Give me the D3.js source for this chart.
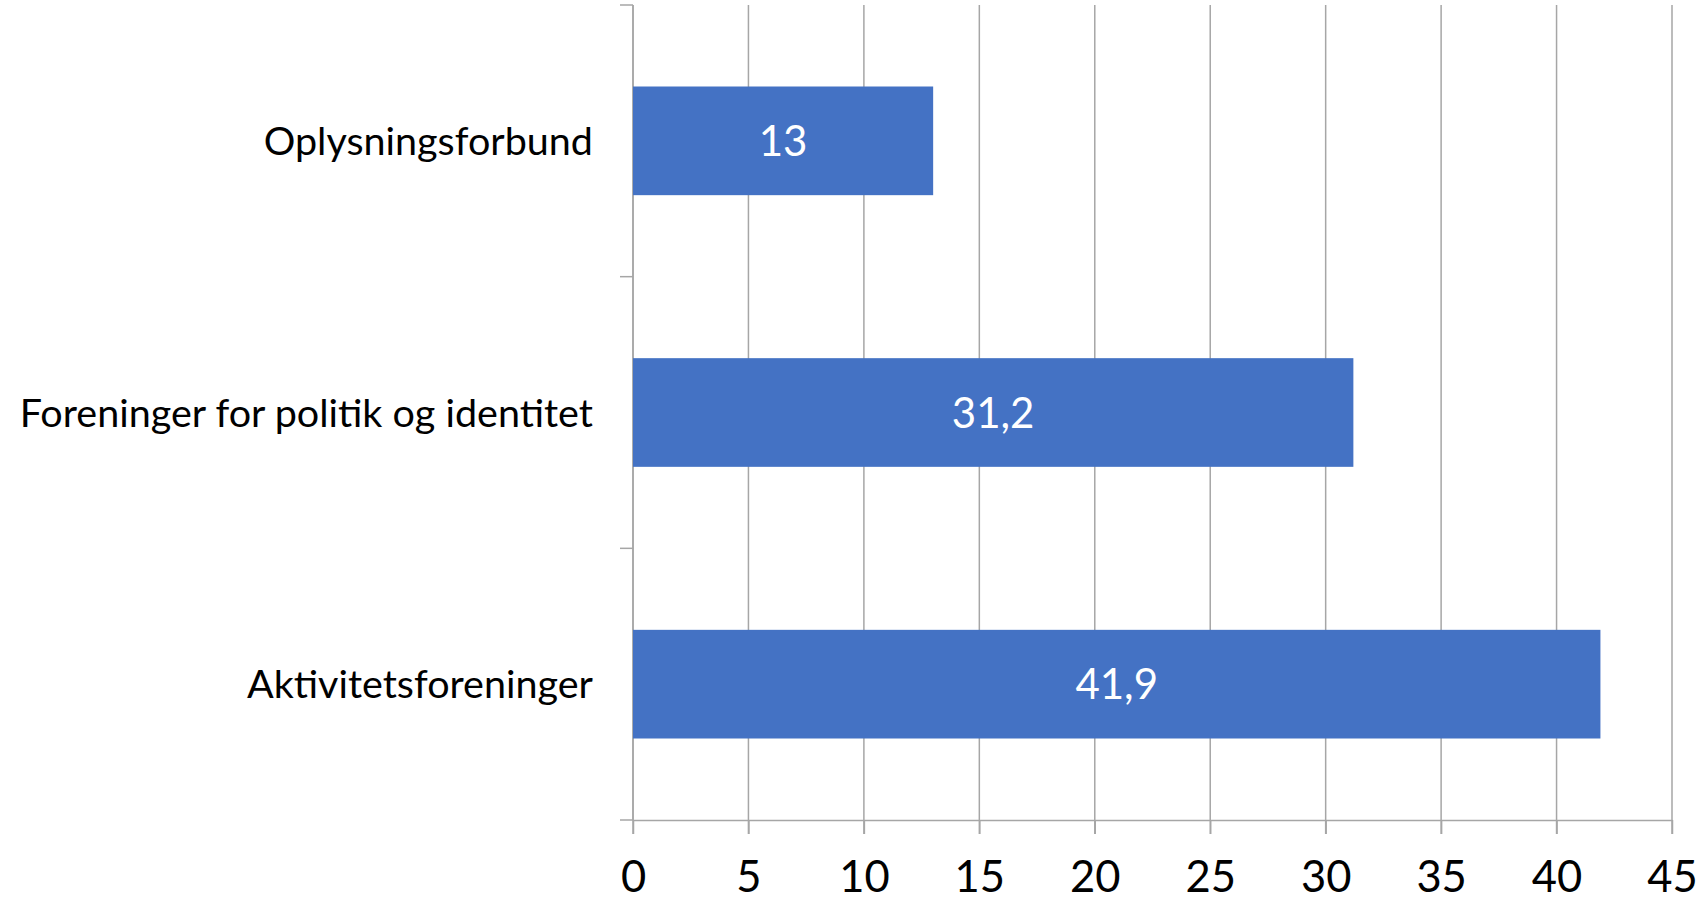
<!DOCTYPE html>
<html>
<head>
<meta charset="utf-8">
<script src="https://cdn.jsdelivr.net/npm/d3@7"></script>
<style>
  html, body { margin: 0; padding: 0; background: #fff; }
  svg { display: block; }
  text { font-family: Lato, "Open Sans", "Liberation Sans", sans-serif; }
</style>
</head>
<body>
<svg id="chart" width="1701" height="901"></svg>
<script>
const categories = ["Oplysningsforbund", "Foreninger for politik og identitet", "Aktivitetsforeninger"];
const values = [13, 31.2, 41.9];
const xTicks = [0, 5, 10, 15, 20, 25, 30, 35, 40, 45];

const W = 1701, H = 901;
const margin = { top: 5, right: 29, bottom: 81, left: 633 };
const svg = d3.select("#chart");

const x = d3.scaleLinear().domain([0, 45]).range([margin.left, W - margin.right]);
const y = d3.scaleBand().domain(categories).range([margin.top, H - margin.bottom])
  .paddingInner(0.6).paddingOuter(0.3);

const loc = d3.formatLocale({ decimal: ",", thousands: ".", grouping: [3], currency: ["", " kr"] });
const fmt = v => loc.format(",")(v);

const gridColor = "#a6a6a6";
const y0 = y.range()[0], y1 = y.range()[1];

// vertical gridlines (extend below axis as ticks)
svg.append("g").selectAll("line").data(xTicks).join("line")
  .attr("x1", d => x(d)).attr("x2", d => x(d))
  .attr("y1", y0).attr("y2", y1 + 14)
  .attr("stroke", gridColor).attr("stroke-width", 1.5);

// bottom axis
const xAxis = svg.append("g").attr("transform", `translate(0,${y1})`)
  .call(d3.axisBottom(x).tickValues(xTicks).tickSizeInner(14).tickSizeOuter(0).tickFormat(d => fmt(d)));
xAxis.select(".domain").attr("stroke", gridColor).attr("stroke-width", 1.5);
xAxis.selectAll(".tick line").attr("stroke", gridColor).attr("stroke-width", 1.5);
xAxis.selectAll(".tick text")
  .attr("y", 72).attr("dy", 0)
  .attr("fill", "#000").style("font-size", "43.5px").style("font-family", "Lato, sans-serif");

// left axis line and category-boundary ticks
const bounds = categories.map(c => y(c) - y.step() * y.paddingInner() / 2);
bounds.push(y1);
svg.append("line").attr("x1", x(0)).attr("x2", x(0)).attr("y1", y0).attr("y2", y1)
  .attr("stroke", gridColor).attr("stroke-width", 1.5);
svg.append("g").selectAll("line").data(bounds).join("line")
  .attr("x1", x(0) - 13).attr("x2", x(0))
  .attr("y1", d => d).attr("y2", d => d)
  .attr("stroke", gridColor).attr("stroke-width", 1.5);

// bars
const data = categories.map((c, i) => ({ c, v: values[i] }));
svg.append("g").selectAll("rect").data(data).join("rect")
  .attr("x", x(0)).attr("y", d => y(d.c))
  .attr("width", d => x(d.v) - x(0)).attr("height", y.bandwidth())
  .attr("fill", "#4472C4");

// data labels
svg.append("g").selectAll("text").data(data).join("text")
  .attr("x", d => (x(0) + x(d.v)) / 2)
  .attr("y", d => y(d.c) + y.bandwidth() / 2)
  .attr("dy", "0.36em")
  .attr("text-anchor", "middle")
  .attr("fill", "#fff")
  .style("font-size", "42px")
  .text(d => fmt(d.v));

// category labels
svg.append("g").selectAll("text").data(categories).join("text")
  .attr("x", x(0) - 40)
  .attr("y", d => y(d) + y.bandwidth() / 2)
  .attr("dy", "0.36em")
  .attr("text-anchor", "end")
  .attr("fill", "#000")
  .style("font-size", "39.5px")
  .text(d => d);
</script>
</body>
</html>
